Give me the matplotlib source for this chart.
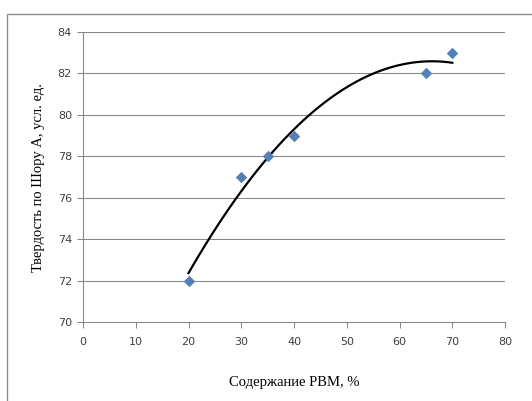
import numpy as np
import matplotlib.pyplot as plt
from matplotlib.patches import Rectangle

# данные
rvm = [20, 30, 35, 40, 65, 70]
hardness = [72, 77, 78, 79, 82, 83]
xticks = [0, 10, 20, 30, 40, 50, 60, 70, 80]
yticks = [70, 72, 74, 76, 78, 80, 82, 84]

fig = plt.figure(figsize=(5.32, 4.01), dpi=100)
ax = fig.add_axes([83/532, 1-322/401, (505-83)/532, (322-32)/401])

# рамка вокруг диаграммы
fig.patches.append(Rectangle((7/532, -0.05), 1.1, 1-14/401+0.05, transform=fig.transFigure,
                             fill=False, edgecolor="#8c8c8c", linewidth=1))

# полиномиальная линия тренда (2-й степени)
coef = np.polyfit(rvm, hardness, 2)
xs = np.linspace(min(rvm), max(rvm), 200)
ax.plot(xs, np.polyval(coef, xs), color="black", linewidth=1.6, zorder=3)

ax.scatter(rvm, hardness, marker="D", s=34, color="#4f81bd", zorder=4, linewidths=0)

ax.set_xlim(0, 80)
ax.set_ylim(70, 84)
ax.set_xticks(xticks)
ax.set_yticks(yticks)
ax.grid(True, axis="y", color="#868686", linewidth=0.75)
ax.set_axisbelow(True)

for s in ["top", "right"]:
    ax.spines[s].set_visible(False)
for s in ["left", "bottom"]:
    ax.spines[s].set_color("#868686")
    ax.spines[s].set_linewidth(0.75)

ax.tick_params(axis="both", colors="#868686", length=4, width=0.75, labelsize=8,
               labelcolor="#404040")
ax.tick_params(axis="x", pad=7)
ax.tick_params(axis="y", pad=4)

ax.set_xlabel("Содержание РВМ, %", fontfamily="Liberation Serif", fontsize=10.5, labelpad=21)
ax.set_ylabel("Твердость по Шору А, усл. ед.", fontfamily="Liberation Serif", fontsize=10.5,
              labelpad=9)

fig.savefig("out.png", dpi=100)
